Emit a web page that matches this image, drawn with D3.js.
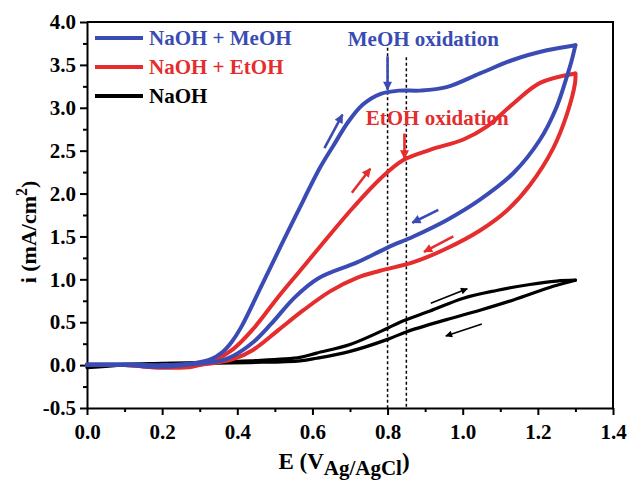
<!DOCTYPE html>
<html>
<head>
<meta charset="utf-8">
<script src="https://cdn.jsdelivr.net/npm/d3@7"></script>
<style>
  html, body { margin: 0; padding: 0; background: #fff; }
  svg text { font-family: "Liberation Serif", "Times New Roman", serif; font-weight: bold; }
</style>
</head>
<body>
<svg id="chart" width="628" height="480"></svg>
<script>
// ---------- DATA ----------
const xTicks = [0.0, 0.2, 0.4, 0.6, 0.8, 1.0, 1.2, 1.4];
const yTicks = [-0.5, 0.0, 0.5, 1.0, 1.5, 2.0, 2.5, 3.0, 3.5, 4.0];
const seriesNames = ["NaOH + MeOH", "NaOH + EtOH", "NaOH"];
const seriesColors = ["#3a4cb4", "#e52d2d", "#000000"];

// [E (V), i (mA/cm2)]
const meohForward = [[0.00,0.01],[0.10,0.01],[0.20,0.00],[0.28,0.02],[0.33,0.07],[0.36,0.15],[0.385,0.27],[0.41,0.44],[0.465,0.93],[0.515,1.38],[0.56,1.78],[0.62,2.30],[0.656,2.56],[0.696,2.84],[0.735,3.04],[0.78,3.16],[0.83,3.20],[0.886,3.20],[0.957,3.24],[1.046,3.40],[1.135,3.56],[1.224,3.67],[1.30,3.73]];
const meohReverse = [[1.30,3.73],[1.29,3.55],[1.277,3.36],[1.25,3.01],[1.206,2.63],[1.135,2.24],[1.046,1.93],[0.957,1.69],[0.869,1.50],[0.80,1.37],[0.72,1.20],[0.615,1.01],[0.553,0.79],[0.49,0.48],[0.443,0.27],[0.39,0.11],[0.354,0.05],[0.30,0.02],[0.20,-0.02],[0.10,0.00],[0.00,0.00]];
const etohForward = [[0.00,0.00],[0.10,0.00],[0.20,-0.03],[0.28,-0.02],[0.34,0.06],[0.39,0.19],[0.44,0.41],[0.51,0.80],[0.567,1.10],[0.62,1.38],[0.709,1.84],[0.78,2.17],[0.842,2.39],[0.913,2.51],[1.002,2.63],[1.064,2.78],[1.135,3.05],[1.206,3.29],[1.30,3.40]];
const etohReverse = [[1.30,3.40],[1.299,3.29],[1.277,2.92],[1.241,2.53],[1.179,2.10],[1.117,1.80],[1.046,1.57],[0.957,1.36],[0.869,1.20],[0.78,1.10],[0.72,1.02],[0.647,0.86],[0.576,0.64],[0.51,0.41],[0.443,0.18],[0.389,0.07],[0.33,0.02],[0.20,-0.02],[0.10,0.00],[0.00,0.00]];
const naohForward = [[0.00,-0.01],[0.10,0.01],[0.20,0.02],[0.30,0.03],[0.434,0.05],[0.567,0.09],[0.611,0.14],[0.70,0.24],[0.80,0.43],[0.833,0.50],[0.913,0.63],[1.002,0.78],[1.09,0.87],[1.179,0.94],[1.25,0.98],[1.30,0.99]];
const naohReverse = [[1.30,0.99],[1.241,0.92],[1.135,0.76],[1.046,0.64],[0.957,0.53],[0.851,0.39],[0.80,0.30],[0.70,0.16],[0.611,0.08],[0.567,0.05],[0.434,0.03],[0.30,0.02],[0.20,0.01],[0.10,0.00],[0.00,-0.03]];

// reference dashed lines [E, top i]
const markerLines = [[0.80, 3.70], [0.85, 3.59]];
// scan-direction arrows [[E0,i0],[E1,i1], seriesIndex]
const scanArrows = [
  [[0.632,2.53],[0.680,2.92],0],
  [[0.705,2.01],[0.754,2.29],1],
  [[0.935,1.81],[0.866,1.66],0],
  [[0.975,1.50],[0.897,1.32],1],
  [[0.915,0.72],[1.012,0.89],2],
  [[1.051,0.48],[0.955,0.34],2]
];
// annotation arrows + labels
const annotations = [
  {text: "MeOH oxidation", at: [0.694, 3.72], from: [0.80, 3.60], to: [0.80, 3.21], s: 0},
  {text: "EtOH oxidation", at: [0.742, 2.80], from: [0.845, 2.70], to: [0.845, 2.41], s: 1}
];

// ---------- CHART ----------
const svg = d3.select("#chart");
const x = d3.scaleLinear().domain([0, 1.4]).range([87, 613]);
const y = d3.scaleLinear().domain([-0.5, 4.0]).range([408, 22]);
const FONT = 21;

// markers
const defs = svg.append("defs");
seriesColors.forEach((c, k) => {
  defs.append("marker").attr("id", "ah" + k)
    .attr("viewBox", "0 0 10 10").attr("refX", 9).attr("refY", 5)
    .attr("markerWidth", k === 2 ? 11 : 12).attr("markerHeight", k === 2 ? 7 : 9)
    .attr("markerUnits", "userSpaceOnUse").attr("orient", "auto")
    .append("path").attr("d", "M0,0 L10,5 L0,10 Z").attr("fill", c);
});

// axes
const xAxis = d3.axisBottom(x).tickValues(xTicks).tickSizeInner(7).tickSizeOuter(0).tickPadding(9).tickFormat(d3.format(".1f"));
const yAxis = d3.axisLeft(y).tickValues(yTicks).tickSizeInner(7).tickSizeOuter(0).tickPadding(4).tickFormat(d => d3.format(".1f")(d).replace("−", "-"));
const xMinor = d3.axisBottom(x).tickValues(d3.range(0.1, 1.4, 0.2)).tickSize(4).tickFormat("");
const yMinor = d3.axisLeft(y).tickValues(d3.range(-0.25, 4.0, 0.5)).tickSize(4).tickFormat("");

function styleAxis(g) {
  g.selectAll("path, line").attr("stroke", "#000").attr("stroke-width", 2);
  g.selectAll("text").attr("font-size", FONT).attr("fill", "#000")
    .attr("font-family", "Liberation Serif, Times New Roman, serif").attr("font-weight", "bold");
}
svg.append("g").attr("transform", "translate(0,408)").call(xAxis).call(styleAxis);
svg.append("g").attr("transform", "translate(0,408)").call(xMinor).call(styleAxis).select(".domain").remove();
svg.append("g").attr("transform", "translate(87,0)").call(yAxis).call(styleAxis);
svg.append("g").attr("transform", "translate(87,0)").call(yMinor).call(styleAxis).select(".domain").remove();
// frame top/right
svg.append("path").attr("d", `M${x(0)},${y(4)} H${x(1.4)} V${y(-0.5)}`)
  .attr("fill", "none").attr("stroke", "#000").attr("stroke-width", 2);

// dashed lines
svg.selectAll(".dash").data(markerLines).enter().append("line")
  .attr("x1", d => x(d[0])).attr("x2", d => x(d[0]))
  .attr("y1", d => y(d[1])).attr("y2", y(-0.5))
  .attr("stroke", "#000").attr("stroke-width", 1.5).attr("stroke-dasharray", "3,2.5");

// annotation labels
annotations.forEach(a => {
  svg.append("text").attr("x", x(a.at[0])).attr("y", y(a.at[1]))
    .attr("font-size", FONT).attr("fill", seriesColors[a.s]).text(a.text);
});

// curves
const line = d3.line().x(d => x(d[0])).y(d => y(d[1])).curve(d3.curveCatmullRom.alpha(0.5));
const curves = [
  [naohForward, 2, 3.2], [naohReverse, 2, 3.2],
  [etohForward, 1, 4], [etohReverse, 1, 4],
  [meohForward, 0, 4], [meohReverse, 0, 4]
];
curves.forEach(([data, s, w]) => {
  svg.append("path").datum(data).attr("d", line)
    .attr("fill", "none").attr("stroke", seriesColors[s]).attr("stroke-width", w)
    .attr("stroke-linejoin", "round").attr("stroke-linecap", "round");
});

// scan arrows
scanArrows.forEach(([a, b, s]) => {
  svg.append("line").attr("x1", x(a[0])).attr("y1", y(a[1])).attr("x2", x(b[0])).attr("y2", y(b[1]))
    .attr("stroke", seriesColors[s]).attr("stroke-width", s === 2 ? 1.6 : 2.6)
    .attr("marker-end", `url(#ah${s})`);
});
annotations.forEach(a => {
  svg.append("line").attr("x1", x(a.from[0])).attr("y1", y(a.from[1])).attr("x2", x(a.to[0])).attr("y2", y(a.to[1]))
    .attr("stroke", seriesColors[a.s]).attr("stroke-width", 2.6).attr("marker-end", `url(#ah${a.s})`);
});

// legend
const legend = svg.append("g");
seriesNames.forEach((n, k) => {
  const yy = 38 + k * 29;
  legend.append("line").attr("x1", 95).attr("x2", 143).attr("y1", yy).attr("y2", yy)
    .attr("stroke", seriesColors[k]).attr("stroke-width", 4);
  legend.append("text").attr("x", 149).attr("y", yy + 7).attr("font-size", FONT)
    .attr("fill", seriesColors[k]).text(n);
});

// axis titles
const xt = svg.append("text").attr("x", 344).attr("y", 469).attr("text-anchor", "middle").attr("font-size", 23);
xt.append("tspan").text("E (V");
xt.append("tspan").attr("font-size", 21).attr("dy", 6).text("Ag/AgCl");
xt.append("tspan").attr("dy", -6).text(")");

const yt = svg.append("text").attr("transform", "translate(36,232) rotate(-90)").attr("text-anchor", "middle").attr("font-size", 22);
yt.append("tspan").text("i (mA/cm");
yt.append("tspan").attr("font-size", 16).attr("dy", -9).text("2");
yt.append("tspan").attr("dy", 9).text(")");
</script>
</body>
</html>
